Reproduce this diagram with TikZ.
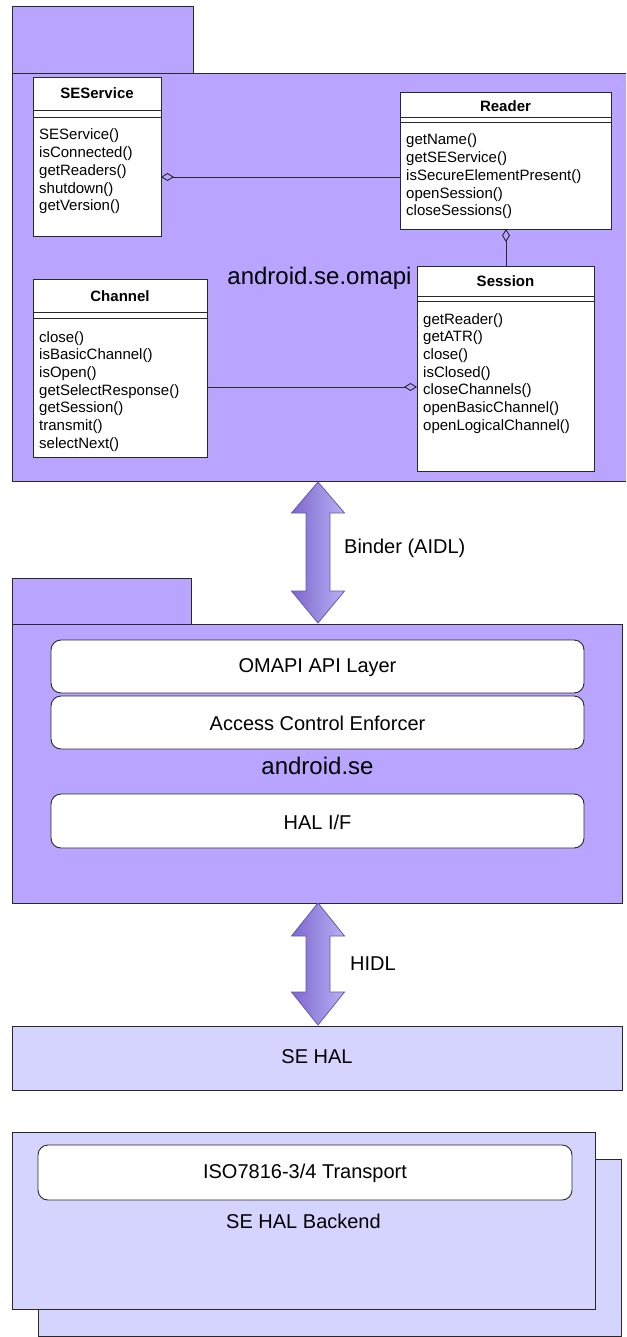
\documentclass[tikz,border=0pt]{standalone}
\usepackage{fontspec}
\setmainfont{Liberation Sans}
\usetikzlibrary{arrows.meta}
\definecolor{pkg}{RGB}{185,165,255}
\definecolor{hal}{RGB}{212,212,255}
\definecolor{edge}{RGB}{40,40,40}
\definecolor{arrdark}{RGB}{122,104,206}
\definecolor{arrlight}{RGB}{186,176,244}
\definecolor{arredge}{RGB}{104,88,176}
\tikzset{
  box/.style={draw=edge, line width=0.9pt, inner sep=0pt, outer sep=0pt, anchor=north west},
  pkgbox/.style={box, fill=pkg},
  halbox/.style={box, fill=hal},
  classbox/.style={box, fill=white},
  layer/.style={box, fill=white, rounded corners=10pt},
  meth/.style={inner sep=0pt, anchor=base west, font=\fontsize{15}{18}\selectfont},
  ctitle/.style={inner sep=0pt, font=\fontsize{15}{18}\selectfont\bfseries},
  lbl/.style={inner sep=0pt, font=\fontsize{20}{24}\selectfont},
  pkglbl/.style={inner sep=0pt, font=\fontsize{24}{28}\selectfont},
  agg/.style={draw=edge, line width=0.9pt, {Diamond[open, length=13pt, width=8pt]}-},
  blockarrow/.style={left color=arrdark, right color=arrlight, draw=arredge, line width=0.8pt, line join=miter},
}
\begin{document}
\begin{tikzpicture}[x=1pt, y=-1pt]
\useasboundingbox (0,0) rectangle (626,1337);
\begin{scope}
\clip (0,0) rectangle (626,1337);
% ---------------- top package android.se.omapi
\node[pkgbox, minimum width=181pt, minimum height=67pt] (omtab) at (12,6) {};
\node[pkgbox, minimum width=620pt, minimum height=408pt] (ombody) at (12,73) {};
\end{scope}
\node[pkglbl] (omlbl) at (319.5,278) {android.se.omapi};

% SEService
\node[classbox, minimum width=128pt, minimum height=159pt] (ses) at (33,77) {};
\draw[edge, line width=0.9pt] (33,110) -- (161,110) (33,117) -- (161,117);
\node[ctitle] (sest) at (97,93) {SEService};
\foreach \m [count=\i] in {SEService(),isConnected(),getReaders(),shutdown(),getVersion()}
  \node[meth] (sesm\i) at (39,{140+17.7*(\i-1)}) {\m};

% Reader
\node[classbox, minimum width=211pt, minimum height=137pt] (rdr) at (400,92) {};
\draw[edge, line width=0.9pt] (400,117) -- (611,117) (400,122) -- (611,122);
\node[ctitle] (rdrt) at (505.5,106) {Reader};
\foreach \m [count=\i] in {getName(),getSEService(),isSecureElementPresent(),openSession(),closeSessions()}
  \node[meth] (rdrm\i) at (406,{145+17.7*(\i-1)}) {\m};

% Session
\node[classbox, minimum width=177pt, minimum height=205pt] (sss) at (417,266) {};
\draw[edge, line width=0.9pt] (417,296) -- (594,296) (417,301) -- (594,301);
\node[ctitle] (ssst) at (505.5,281) {Session};
\foreach \m [count=\i] in {getReader(),getATR(),close(),isClosed(),closeChannels(),openBasicChannel(),openLogicalChannel()}
  \node[meth] (sssm\i) at (423,{324+17.7*(\i-1)}) {\m};

% Channel
\node[classbox, minimum width=174pt, minimum height=178pt] (chn) at (33,279) {};
\draw[edge, line width=0.9pt] (33,312) -- (207,312) (33,318) -- (207,318);
\node[ctitle] (chnt) at (120,296) {Channel};
\foreach \m [count=\i] in {close(),isBasicChannel(),isOpen(),getSelectResponse(),getSession(),transmit(),selectNext()}
  \node[meth] (chnm\i) at (39,{342+17.7*(\i-1)}) {\m};

% aggregations
\coordinate (sesR) at (161,177);
\coordinate (rdrL) at (400,177);
\draw[agg] (sesR) -- (rdrL);
\coordinate (rdrB) at (506,229);
\coordinate (sssT) at (506,266);
\draw[agg] (rdrB) -- (sssT);
\coordinate (sssL) at (417,387);
\coordinate (chnR) at (207,387);
\draw[agg] (sssL) -- (chnR);

% ---------------- Binder arrow
\shadedraw[blockarrow] (318,482) -- (344.5,513) -- (330,513) -- (330,591) -- (344.5,591) -- (318,623) -- (291.5,591) -- (306,591) -- (306,513) -- (291.5,513) -- cycle;
\node[lbl, anchor=west] (binder) at (344,548) {Binder (AIDL)};

% ---------------- android.se package
\node[pkgbox, minimum width=179pt, minimum height=46pt] (setab) at (12,578) {};
\node[pkgbox, minimum width=610pt, minimum height=279pt] (sebody) at (12,624) {};
\node[layer, minimum width=533pt, minimum height=53pt] (omapi) at (51,640) {};
\node[lbl] (omapit) at (317.5,668) {OMAPI API Layer};
\node[layer, minimum width=533pt, minimum height=53pt] (ace) at (51,696) {};
\node[lbl] (acet) at (317.5,723) {Access Control Enforcer};
\node[pkglbl] (selbl) at (317.5,766) {android.se};
\node[layer, minimum width=533pt, minimum height=54pt] (halif) at (51,794) {};
\node[lbl] (halift) at (317.5,822) {HAL I/F};

% ---------------- HIDL arrow
\shadedraw[blockarrow] (318,903) -- (344.5,936) -- (330,936) -- (330,992) -- (344.5,992) -- (318,1025) -- (291.5,992) -- (306,992) -- (306,936) -- (291.5,936) -- cycle;
\node[lbl, anchor=west] (hidl) at (350,964) {HIDL};

% ---------------- SE HAL
\node[halbox, minimum width=610pt, minimum height=64pt] (sehal) at (12,1026) {};
\node[lbl] (sehalt) at (317,1057) {SE HAL};

% ---------------- SE HAL Backend (stacked)
\node[halbox, minimum width=583pt, minimum height=177pt] (beback) at (38,1159) {};
\node[halbox, minimum width=583pt, minimum height=177pt] (befront) at (12,1132) {};
\node[layer, minimum width=534pt, minimum height=55pt] (iso) at (38,1145) {};
\node[lbl] (isot) at (305,1173) {ISO7816-3/4 Transport};
\node[lbl] (belbl) at (303.5,1221) {SE HAL Backend};
\end{tikzpicture}
\end{document}
